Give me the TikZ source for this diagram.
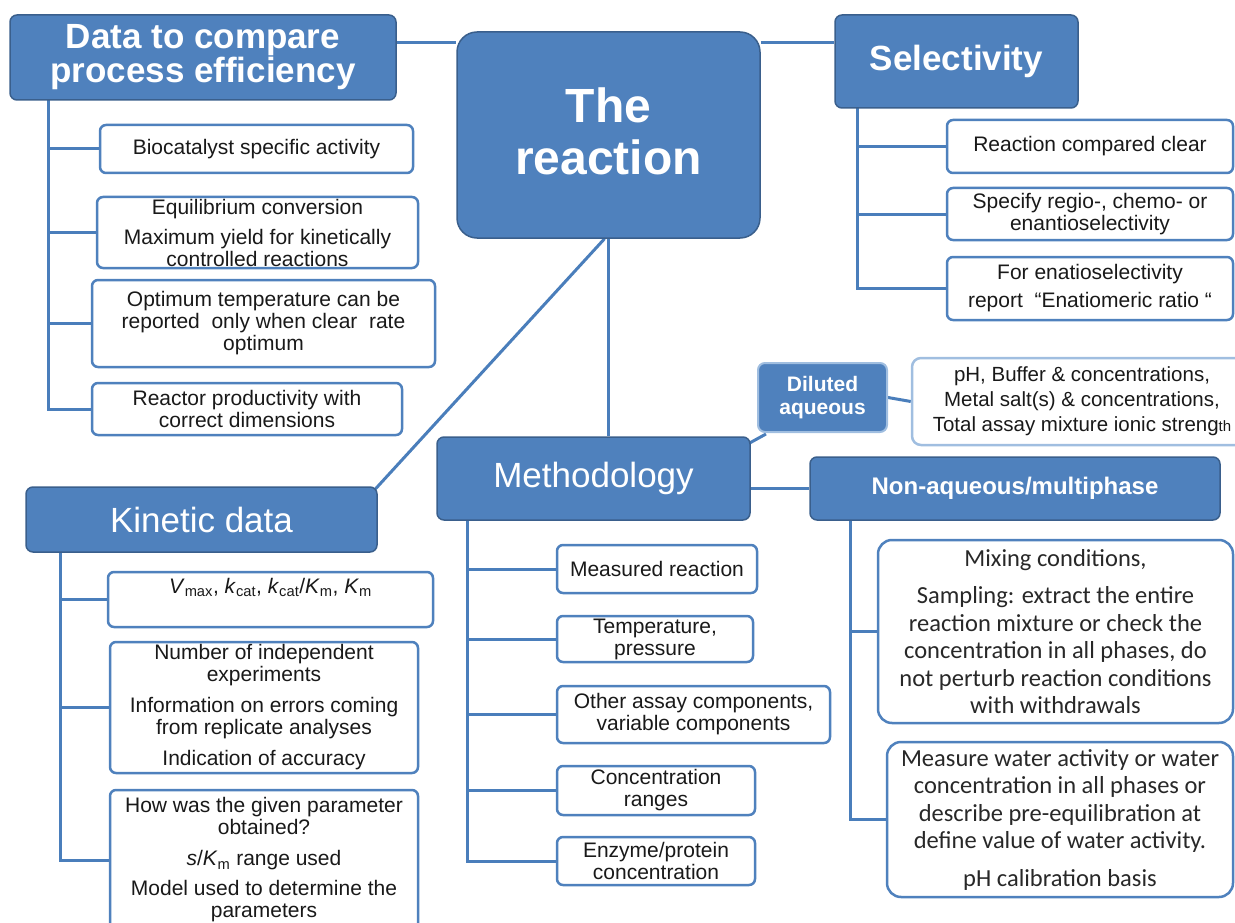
\documentclass[tikz,border=0pt]{standalone}
\usepackage{fontspec}
\setmainfont{Liberation Sans}
\newfontfamily\calib{Carlito}
\usetikzlibrary{backgrounds}
\definecolor{hblue}{RGB}{79,129,189}
\definecolor{hborder}{RGB}{58,95,140}
\definecolor{lblue}{RGB}{74,126,187}
\definecolor{ltxt}{RGB}{25,25,25}
\definecolor{pale}{RGB}{160,190,224}
\begin{document}
\begin{tikzpicture}[x=1pt,y=-1pt,
 hdr/.style={draw=hborder, fill=hblue, line width=1.5pt, rounded corners=7pt, text=white, align=center, inner sep=0pt},
 cbox/.style={draw=hblue, fill=white, line width=2.5pt, rounded corners=6pt, text=ltxt, align=center, inner sep=0pt, font=\fontsize{21}{22}\selectfont},
 cal/.style={cbox, rounded corners=14pt, text={rgb,255:red,40;green,40;blue,40}, font=\calib\fontsize{24.5}{27.5}\selectfont},
 link/.style={draw=lblue, line width=3pt},
]
\useasboundingbox (0,0) rectangle (1235,923);
\clip (0,0) rectangle (1235,923);

% headers
\node[hdr, minimum width=386pt, minimum height=85pt, font=\bfseries\fontsize{35}{34}\selectfont] (data) at (203,57.5) {Data to compare\\process efficiency};
\node[hdr, rounded corners=20pt, minimum width=303pt, minimum height=206pt, text depth=7pt, font=\bfseries\fontsize{48}{52}\selectfont] (react) at (608.5,135) {The\\reaction};
\node[hdr, minimum width=243pt, minimum height=93pt, font=\bfseries\fontsize{35}{36}\selectfont] (sel) at (956.5,61.5) {Selectivity};
\node[hdr, minimum width=351pt, minimum height=65pt, font=\fontsize{35}{36}\selectfont] (kin) at (201.5,519.5) {Kinetic data};
\node[hdr, minimum width=313pt, minimum height=83pt, font=\fontsize{35}{36}\selectfont] (meth) at (593.5,478.5) {Methodology};
\node[hdr, draw=pale, line width=2pt, minimum width=129pt, minimum height=69pt, font=\bfseries\fontsize{21}{23}\selectfont] (dil) at (822.5,397.5) {Diluted\\aqueous};
\node[cbox, draw=pale, rounded corners=9pt, minimum width=340pt, minimum height=87pt, font=\fontsize{20.5}{25}\selectfont] (ph) at (1082,401.5) {pH, Buffer \& concentrations,\\Metal salt(s) \& concentrations,\\Total assay mixture ionic streng{\fontsize{15}{15}\selectfont th}};
\node[hdr, minimum width=410pt, minimum height=63pt, font=\bfseries\fontsize{24}{26}\selectfont] (nonaq) at (1015,488.5) {Non-aqueous/multiphase};

% data children
\node[cbox, minimum width=313pt, minimum height=48pt] (bio) at (256.5,149) {Biocatalyst specific activity};
\node[cbox, minimum width=321pt, minimum height=71pt] (equi) at (257.5,232.5) {Equilibrium conversion\\[8pt]Maximum yield for kinetically\\controlled reactions};
\node[cbox, minimum width=343pt, minimum height=87pt] (opt) at (263.5,323.5) {Optimum temperature can be\\reported\ \ only when clear\ \ rate\\optimum};
\node[cbox, minimum width=310pt, minimum height=52pt] (reac) at (247,409) {Reactor productivity with\\correct dimensions};

% selectivity children
\node[cbox, minimum width=286pt, minimum height=53pt] (rcc) at (1090,146.5) {Reaction compared clear};
\node[cbox, minimum width=286pt, minimum height=52pt] (spec) at (1090,214) {Specify regio-, chemo- or\\enantioselectivity};
\node[cbox, minimum width=286pt, minimum height=63pt] (enat) at (1090,288.5) {For enatioselectivity\\[6pt]report\ \ “Enatiomeric ratio “};

% kinetic children
\node[cbox, minimum width=325pt, minimum height=55pt, text height=15pt, text depth=28pt] (vmax) at (270.5,599.5) {\textit{V}\textsubscript{max}, \textit{k}\textsubscript{cat}, \textit{k}\textsubscript{cat}/\textit{K}\textsubscript{m}, \textit{K}\textsubscript{m}};
\node[cbox, minimum width=308pt, minimum height=131pt] (num) at (264,707.5) {Number of independent\\experiments\\[9pt]Information on errors coming\\from replicate analyses\\[9pt]Indication of accuracy};
\node[cbox, minimum width=308pt, minimum height=140pt] (how) at (264,860) {How was the given parameter\\obtained?\\[9pt]\textit{s}/\textit{K}\textsubscript{m} range used\\[8pt]Model used to determine the\\parameters};

% methodology children
\node[cbox, minimum width=200pt, minimum height=48pt] (meas) at (657,569) {Measured reaction};
\node[cbox, minimum width=196pt, minimum height=46pt] (temp) at (655,639) {Temperature,\\pressure};
\node[cbox, minimum width=273pt, minimum height=57pt] (other) at (693.5,714.5) {Other assay components,\\variable components};
\node[cbox, minimum width=198pt, minimum height=49pt] (conc) at (656,790.5) {Concentration\\ranges};
\node[cbox, minimum width=198pt, minimum height=48pt] (enz) at (656,861) {Enzyme/protein\\concentration};

% non-aqueous children
\node[cal, minimum width=355pt, minimum height=183pt] (mix) at (1055.5,631.5) {Mixing conditions,\\[10pt]Sampling: extract the entire\\reaction mixture or check the\\concentration in all phases, do\\not perturb reaction conditions\\with withdrawals};
\node[cal, minimum width=346pt, minimum height=155pt] (mw) at (1060,819.5) {Measure water activity or water\\concentration in all phases or\\describe pre-equilibration at\\define value of water activity.\\[10pt]pH calibration basis};

% connectors
\begin{pgfonlayer}{background}
\coordinate (y43) at (0,43);
\draw[link] (data.east |- y43) -- (react.west |- y43);
\draw[link] (react.east |- y43) -- (sel.west |- y43);
\draw[link] (react.south) -- (react.south |- meth.north);
\draw[link] ([xshift=-4pt]react.south) -- ([xshift=-9pt,yshift=-10pt]kin.north east);
\draw[link] ([xshift=-7pt,yshift=-10pt]meth.north east) -- ([xshift=9pt,yshift=-1pt]dil.south west);
\draw[link] (dil.east) -- (ph.west);
\draw[link] (meth.east |- nonaq.west) -- (nonaq.west);

\coordinate (dt) at (48,100);
\draw[link] (dt) |- (reac.west);
\foreach \c in {bio,equi,opt} \draw[link] (dt |- \c.west) -- (\c.west);

\coordinate (st) at (857,108);
\draw[link] (st) |- (enat.west);
\foreach \c in {rcc,spec} \draw[link] (st |- \c.west) -- (\c.west);

\coordinate (kt) at (60,552);
\draw[link] (kt) |- (how.west);
\foreach \c in {vmax,num} \draw[link] (kt |- \c.west) -- (\c.west);

\coordinate (mt) at (467,520);
\draw[link] (mt) |- (enz.west);
\foreach \c in {meas,temp,other,conc} \draw[link] (mt |- \c.west) -- (\c.west);

\coordinate (nt) at (850,520);
\draw[link] (nt) |- (mw.west);
\draw[link] (nt |- mix.west) -- (mix.west);
\end{pgfonlayer}
\end{tikzpicture}
\end{document}
